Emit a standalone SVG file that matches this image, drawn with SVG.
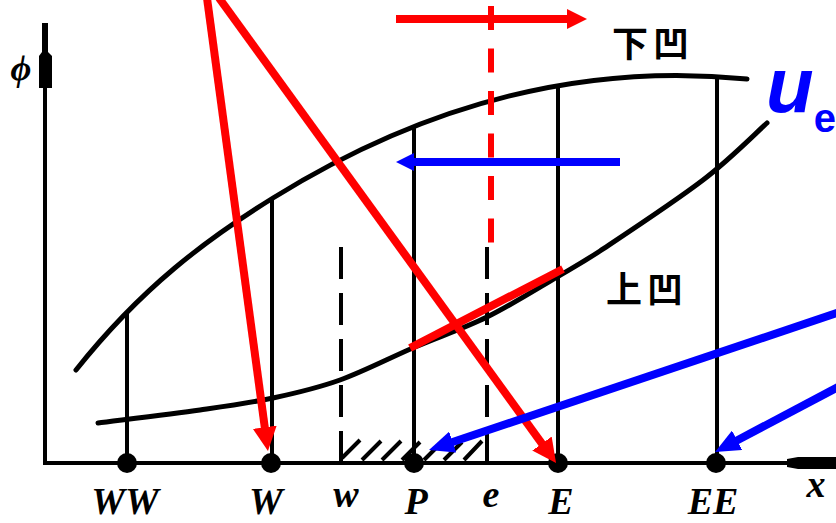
<svg xmlns="http://www.w3.org/2000/svg" width="836" height="523" viewBox="0 0 836 523">
<style>
.ax{stroke:#000;stroke-width:4;fill:none}
.crv{stroke:#000;stroke-width:5;fill:none;stroke-linecap:round}
.vl{stroke:#000;stroke-width:4;fill:none}
.dl{stroke:#000;stroke-width:4;fill:none;stroke-dasharray:32 14}
.ht{stroke:#000;stroke-width:4;fill:none}
.dot{fill:#000}
.lbl{font-family:"Liberation Serif","DejaVu Serif",serif;font-weight:bold;font-style:italic;font-size:38px;fill:#000;text-anchor:middle}
.phi{font-family:"Liberation Serif","DejaVu Serif",serif;font-weight:bold;font-style:italic;font-size:36px;fill:#000;text-anchor:middle}
.cjk{font-family:"Noto Sans CJK SC",sans-serif;font-weight:bold;font-size:36px;letter-spacing:5px;fill:#000}
.red{stroke:#f00;stroke-width:8;fill:none}
.blue{stroke:#00f;stroke-width:8;fill:none}
</style>
<defs>
<marker id="rA" markerUnits="userSpaceOnUse" markerWidth="24" markerHeight="24" refX="4" refY="12" orient="auto" viewBox="0 0 24 24"><path d="M0,0 L24,12 L0,24 z" fill="#f00"/></marker>
<marker id="rS" markerUnits="userSpaceOnUse" markerWidth="20" markerHeight="20" refX="4" refY="10" orient="auto" viewBox="0 0 20 20"><path d="M0,0 L20,10 L0,20 z" fill="#f00"/></marker>
<marker id="bA" markerUnits="userSpaceOnUse" markerWidth="25" markerHeight="22" refX="4" refY="11" orient="auto" viewBox="0 0 25 22"><path d="M0,0 L25,11 L0,22 z" fill="#00f"/></marker>
<marker id="bS" markerUnits="userSpaceOnUse" markerWidth="18" markerHeight="18" refX="4" refY="9" orient="auto" viewBox="0 0 18 18"><path d="M0,0 L18,9 L0,18 z" fill="#00f"/></marker>
</defs>
<rect width="836" height="523" fill="#fff"/>

<g id="axes">
<line class="ax" x1="45" y1="465" x2="45" y2="86"/>
<polygon points="42,23 48,23 48,52 52,56 52,88 39,88 39,56 42,52" fill="#000"/>
<line class="ax" x1="43" y1="463" x2="790" y2="463"/>
<polygon points="787,459 798,457 836,457 836,469 798,469 787,467" fill="#000"/>
<text x="21" y="80" class="phi">ϕ</text>
<text x="816" y="497" class="lbl">x</text>
</g>

<g id="curves">
<path class="crv" d="M76,370 C142,287 207,239 273,198 C431,100 589,63 747,79"/>
<path class="crv" d="M98,423 C115,420.8 170.8,414.2 200,410 C229.2,405.8 249.7,403 273,398 C296.3,393 316.3,388.5 340,380 C363.7,371.5 390.5,357.5 415,347 C439.5,336.5 463.3,328.7 487,317 C510.7,305.3 538.2,288 557,277 C575.8,266 580,264 600,251 C624.3,234.8 675.2,201.3 703,180 C730.8,158.7 756.3,132.5 767,123"/>
<text x="612" y="57" class="cjk">下凹</text>
<text x="606" y="303" class="cjk">上凹</text>
</g>

<g id="hatch">
<line class="dl" x1="341" y1="247" x2="341" y2="463"/>
<line class="dl" x1="487" y1="247" x2="487" y2="463"/>
<path class="ht" d="M342,458 L360,440 M362,460 L381,441 M382,460 L401,441 M402,460 L420,442 M424,460 L442,442 M444,460 L462,442 M464,460 L482,441"/>
</g>

<g id="node-WW"><line class="vl" x1="127" y1="312" x2="127" y2="463"/><circle class="dot" cx="127" cy="463" r="10"/><text x="125" y="514" class="lbl">WW</text></g>
<g id="node-W"><line class="vl" x1="272" y1="198" x2="272" y2="463"/><circle class="dot" cx="271" cy="463" r="10"/><text x="266" y="514" class="lbl">W</text></g>
<g id="node-w"><text x="346" y="507" class="lbl">w</text></g>
<g id="node-P"><line class="vl" x1="414" y1="127" x2="414" y2="463"/><circle class="dot" cx="414" cy="463" r="10"/><text x="416" y="514" class="lbl">P</text></g>
<g id="node-e"><text x="491" y="507" class="lbl">e</text></g>
<g id="node-E"><line class="vl" x1="558" y1="87" x2="558" y2="463"/><circle class="dot" cx="558" cy="463" r="10"/><text x="561" y="514" class="lbl">E</text></g>
<g id="node-EE"><line class="vl" x1="717" y1="75" x2="717" y2="463"/><circle class="dot" cx="716" cy="463" r="10"/><text x="713" y="514" class="lbl">EE</text></g>

<g id="connectors">
<line class="red" x1="207" y1="-2" x2="265.3" y2="431.2" marker-end="url(#rA)"/>
<line class="red" x1="219" y1="-2" x2="544.3" y2="446.8" marker-end="url(#rA)"/>
<line class="red" x1="396" y1="19" x2="571" y2="19" stroke-width="7" marker-end="url(#rS)"/>
<line x1="491" y1="6" x2="491" y2="245" stroke="#f00" stroke-width="6" stroke-dasharray="24 18.5"/>
<line class="red" x1="410" y1="348" x2="563" y2="269" stroke-width="7"/>
<line class="blue" x1="620" y1="162" x2="410" y2="162" stroke-width="7" marker-end="url(#bS)"/>
<line class="blue" x1="840" y1="312" x2="448.9" y2="443.3" marker-end="url(#bA)"/>
<line class="blue" x1="840" y1="386" x2="733.6" y2="442.2" marker-end="url(#bA)"/>
</g>

<g id="label-ue">
<text x="766" y="112" font-family="Liberation Sans, Arial, sans-serif" font-weight="bold" font-style="italic" font-size="78" fill="#00f">u<tspan dy="20" font-size="40" font-style="normal">e</tspan></text>
</g>
</svg>
